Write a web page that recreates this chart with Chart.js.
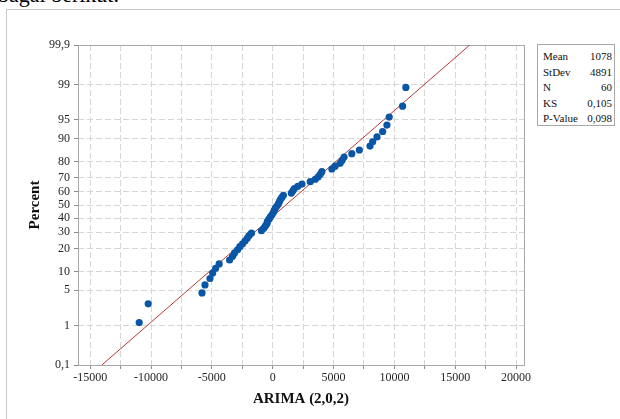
<!DOCTYPE html>
<html>
<head>
<meta charset="utf-8">
<script src="https://cdn.jsdelivr.net/npm/chart.js@4.4.0/dist/chart.umd.min.js"></script>
<style>
  body { margin: 0; background: #fff; width: 620px; height: 419px; overflow: hidden; position: relative;
         font-family: "Liberation Serif", "Times New Roman", serif; }
  #doc { position: absolute; left: -2px; top: -16.5px; font-size: 22px; line-height: 22px; color: #000; white-space: nowrap; }
  #frame { position: absolute; left: 6px; top: 9px; width: 700px; height: 500px; border: 1px solid #c8c8c8; }
  #c { position: absolute; left: 0; top: 0; }
  #stats { position: absolute; left: 537px; top: 44px; width: 78px; height: 82px; box-sizing: border-box;
           border: 1px solid #a8a8a8; background: #fff; font-size: 11px; line-height: 15.6px; padding-top: 4px; color: #111; }
  #stats .row { display: flex; justify-content: space-between; padding: 0 2px 0 5px; }
</style>
</head>
<body>
<div id="doc">bagai berikut.</div>
<div id="frame"></div>
<canvas id="c" width="620" height="419"></canvas>
<div id="stats"></div>
<script>
// residuals, sorted (one per plotting position)
const residuals = [
  -10970, -10230, -5810, -5565, -5155, -4935, -4690, -4400, -3545, -3300,
  -3135, -2890, -2700, -2480, -2275, -2095, -1950, -1745, -925, -735,
  -600, -475, -435, -310, -190, -65, 55, 125, 220, 345,
  465, 550, 630, 755, 875, 1530, 1655, 1775, 2060, 2405,
  3085, 3495, 3740, 3905, 4040, 4860, 5130, 5540, 5705, 5865,
  6500, 7120, 7995, 8215, 8570, 9035, 9385, 9575, 10670, 10940
];
// percent (median rank) of each point
const plotPct = [
  1.159, 2.815, 4.470, 6.126, 7.781, 9.437, 11.093, 12.748, 14.404, 16.060,
  17.715, 19.371, 21.026, 22.682, 24.338, 25.993, 27.649, 29.305, 30.960, 32.616,
  34.272, 35.927, 37.583, 39.238, 40.894, 42.550, 44.205, 45.861, 47.517, 49.172,
  50.828, 52.483, 54.139, 55.795, 57.450, 59.106, 60.762, 62.417, 64.073, 65.728,
  67.384, 69.040, 70.695, 72.351, 74.007, 75.662, 77.318, 78.974, 80.629, 82.285,
  83.940, 85.596, 87.252, 88.907, 90.563, 92.219, 93.874, 95.530, 97.185, 98.841
];
// fitted normal line (mean 1078, stdev 4891)
const fitX = [-14040, 16190];
const fitPct = [0.1, 99.9];

const xTicks = [-15000, -12500, -10000, -7500, -5000, -2500, 0, 2500, 5000, 7500, 10000, 12500, 15000, 17500, 20000];
const yTicks = [0.1, 1, 5, 10, 20, 30, 40, 50, 60, 70, 80, 90, 95, 99, 99.9];
const yLabels = ["0,1", "1", "5", "10", "20", "30", "40", "50", "60", "70", "80", "90", "95", "99", "99,9"];

const statLabels = ["Mean", "StDev", "N", "KS", "P-Value"];
const statValues = ["1078", "4891", "60", "0,105", "0,098"];

const stats = document.getElementById("stats");
statLabels.forEach((l, i) => {
  stats.innerHTML += `<div class="row"><span>${l}</span><span>${statValues[i]}</span></div>`;
});

// inverse normal cdf (Acklam) - maps percent to the probability axis
function probit(p) {
  const a = [-3.969683028665376e+01, 2.209460984245205e+02, -2.759285104469687e+02, 1.383577518672690e+02, -3.066479806614716e+01, 2.506628277459239e+00];
  const b = [-5.447609879822406e+01, 1.615858368580409e+02, -1.556989798598866e+02, 6.680131188771972e+01, -1.328068155288572e+01];
  const c = [-7.784894002430293e-03, -3.223964580411365e-01, -2.400758277161838e+00, -2.549732539343734e+00, 4.374664141464968e+00, 2.938163982698783e+00];
  const d = [7.784695709041462e-03, 3.224671290700398e-01, 2.445134137142996e+00, 3.754408661907416e+00];
  const pl = 0.02425;
  let q, r;
  if (p < pl) {
    q = Math.sqrt(-2 * Math.log(p));
    return (((((c[0]*q+c[1])*q+c[2])*q+c[3])*q+c[4])*q+c[5]) / ((((d[0]*q+d[1])*q+d[2])*q+d[3])*q+1);
  }
  if (p > 1 - pl) {
    q = Math.sqrt(-2 * Math.log(1 - p));
    return -(((((c[0]*q+c[1])*q+c[2])*q+c[3])*q+c[4])*q+c[5]) / ((((d[0]*q+d[1])*q+d[2])*q+d[3])*q+1);
  }
  q = p - 0.5; r = q * q;
  return (((((a[0]*r+a[1])*r+a[2])*r+a[3])*r+a[4])*r+a[5])*q / (((((b[0]*r+b[1])*r+b[2])*r+b[3])*r+b[4])*r+1);
}
const z = pct => probit(pct / 100);

const serif = "'Liberation Serif', 'Times New Roman', serif";

// plot frame
const framePlugin = {
  id: "frame",
  beforeDatasetsDraw(chart) {
    const { ctx, chartArea: a } = chart;
    ctx.save();
    ctx.strokeStyle = "#a8a8a8";
    ctx.lineWidth = 1;
    ctx.strokeRect(a.left + 0.5, a.top + 0.5, a.right - a.left, a.bottom - a.top);
    ctx.restore();
  }
};

new Chart(document.getElementById("c"), {
  type: "scatter",
  data: {
    datasets: [
      {
        label: "ARIMA (2,0,2)",
        data: residuals.map((v, i) => ({ x: v, y: z(plotPct[i]) })),
        backgroundColor: "#0a56a6",
        borderColor: "#0a56a6",
        pointRadius: 3.6,
        pointBorderWidth: 0,
        order: 1
      },
      {
        label: "Fit",
        type: "line",
        data: fitX.map((v, i) => ({ x: v, y: z(fitPct[i]) })),
        borderColor: "#b23a3a",
        borderWidth: 1,
        pointRadius: 0,
        order: 2
      }
    ]
  },
  options: {
    responsive: false,
    animation: false,
    devicePixelRatio: 1,
    layout: { padding: { left: 0, right: 96, top: 45, bottom: 0 } },
    plugins: { legend: { display: false }, tooltip: { enabled: false } },
    scales: {
      x: {
        type: "linear",
        min: -16000,
        max: 20650,
        afterBuildTicks: s => { s.ticks = xTicks.map(v => ({ value: v })); },
        afterFit: s => { s.height = 54; },
        ticks: {
          autoSkip: false, maxRotation: 0, padding: 2, color: "#262626",
          font: { family: serif, size: 12 },
          callback: v => (v % 5000 === 0 ? String(v) : "")
        },
        grid: { color: "#d6d6d6", tickColor: "#8c8c8c", tickLength: 4, tickBorderDash: [] },
        border: { display: false, dash: [6, 3] },
        title: {
          display: true, text: "ARIMA (2,0,2)", color: "#111",
          font: { family: serif, size: 15, weight: "bold" },
          padding: { top: 0, bottom: 11 }
        }
      },
      y: {
        type: "linear",
        min: z(0.1),
        max: z(99.9),
        afterBuildTicks: s => { s.ticks = yTicks.map(p => ({ value: z(p) })); },
        afterFit: s => { s.width = 78; },
        ticks: {
          autoSkip: false, padding: 4, color: "#262626",
          font: { family: serif, size: 12 },
          callback: (v, i) => yLabels[i]
        },
        grid: { color: "#d6d6d6", tickColor: "#8c8c8c", tickLength: 4, tickBorderDash: [] },
        border: { display: false, dash: [6, 3] },
        title: {
          display: true, text: "Percent", color: "#111",
          font: { family: serif, size: 15, weight: "bold" },
          padding: { top: 26, bottom: 0 }
        }
      }
    }
  },
  plugins: [framePlugin]
});
</script>
</body>
</html>
